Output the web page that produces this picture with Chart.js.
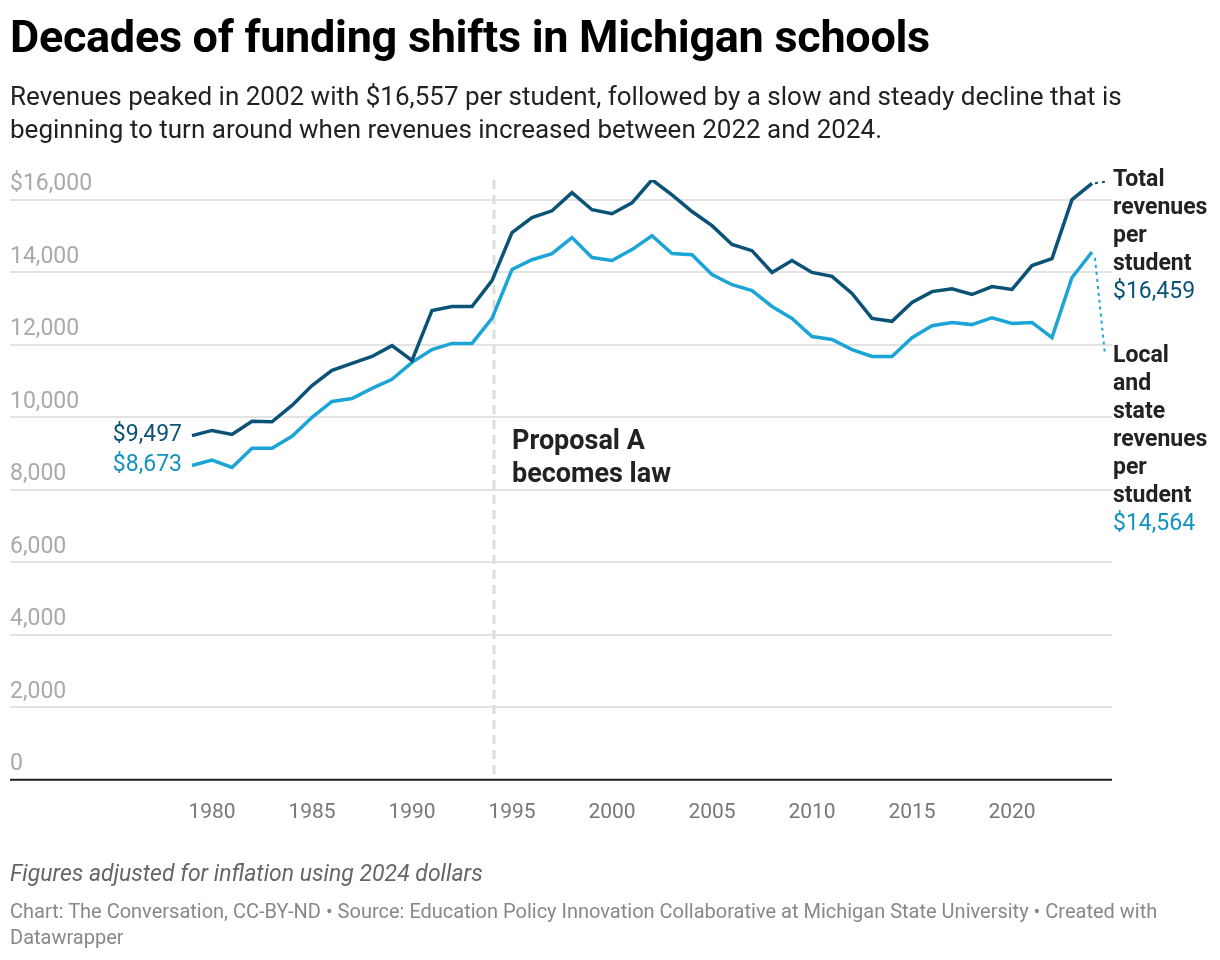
<!DOCTYPE html>
<html>
<head>
<meta charset="utf-8">
<script src="https://cdn.jsdelivr.net/npm/chart.js@4.4.1/dist/chart.umd.min.js"></script>
<style>
  body { margin: 0; background: #fff; font-family: Roboto, sans-serif; }
  #wrap { position: relative; width: 1220px; height: 960px; }
  h1 { position: absolute; left: 10px; top: 10px; margin: 0; font-size: 45px; font-weight: 700; color: #000; letter-spacing: -0.3px; }
  .sub { position: absolute; left: 10px; top: 80px; width: 1205px; font-size: 26px; line-height: 33px; color: #222; }
  canvas { position: absolute; left: 0; top: 0; }
  .note { position: absolute; left: 10px; top: 860px; font-size: 23px; font-style: italic; color: #666; }
  .src { position: absolute; left: 10px; top: 898px; font-size: 20px; line-height: 26px; color: #888; width: 1150px; }
</style>
</head>
<body>
<div id="wrap">
  <canvas id="chart" width="1220" height="960"></canvas>
  <h1>Decades of funding shifts in Michigan schools</h1>
  <div class="sub">Revenues peaked in 2002 with $16,557 per student, followed by a slow and steady decline that is beginning to turn around when revenues increased between 2022 and 2024.</div>
  <div class="note">Figures adjusted for inflation using 2024 dollars</div>
  <div class="src">Chart: The Conversation, CC-BY-ND • Source: Education Policy Innovation Collaborative at Michigan State University • Created with Datawrapper</div>
</div>
<script>
const years = [];
for (let y = 1979; y <= 2024; y++) years.push(y);

const totalRevenues = [9497, 9640, 9530, 9890, 9880, 10330, 10880, 11300, 11490, 11680,
  11980, 11570, 12950, 13060, 13060, 13775, 15100, 15510, 15700, 16200,
  15730, 15620, 15920, 16557, 16140, 15680, 15290, 14770, 14600, 14000,
  14330, 14000, 13890, 13420, 12730, 12650, 13170, 13470, 13550, 13390,
  13610, 13530, 14190, 14380, 16010, 16459];

const localStateRevenues = [8673, 8820, 8620, 9150, 9150, 9480, 10000, 10440, 10520, 10800,
  11050, 11520, 11870, 12040, 12040, 12730, 14080, 14350, 14520, 14960,
  14410, 14330, 14630, 15010, 14520, 14490, 13940, 13660, 13500, 13060,
  12730, 12230, 12150, 11870, 11680, 11680, 12200, 12530, 12620, 12560,
  12750, 12590, 12620, 12200, 13860, 14564];

const yTicks = [0, 2000, 4000, 6000, 8000, 10000, 12000, 14000, 16000];
const xTicks = [1980, 1985, 1990, 1995, 2000, 2005, 2010, 2015, 2020];
const proposalYear = 1994.1;

const DARK = '#0b5277';
const LIGHT = '#1ba5d6';

const toPoints = arr => arr.map((v, i) => ({ x: years[i], y: v }));

const extras = {
  id: 'extras',
  beforeDatasetsDraw(chart) {
    const { ctx, scales: { x, y }, chartArea } = chart;
    // y labels above gridlines
    ctx.save();
    ctx.font = '23px Roboto';
    ctx.fillStyle = '#aaa';
    ctx.textBaseline = 'bottom';
    yTicks.forEach(v => {
      const label = v === 16000 ? '$16,000' : v.toLocaleString('en-US');
      ctx.fillText(label, 10, y.getPixelForValue(v) - 4);
    });
    // Proposal A line
    const px = x.getPixelForValue(proposalYear);
    ctx.strokeStyle = '#ddd';
    ctx.lineWidth = 3;
    ctx.setLineDash([9, 6]);
    ctx.beginPath();
    ctx.moveTo(px, chartArea.top);
    ctx.lineTo(px, chartArea.bottom);
    ctx.stroke();
    ctx.restore();
  },
  afterDatasetsDraw(chart) {
    const { ctx, scales: { x, y }, chartArea } = chart;
    ctx.save();
    // baseline
    ctx.strokeStyle = '#222';
    ctx.lineWidth = 2;
    ctx.beginPath();
    ctx.moveTo(chartArea.left, chartArea.bottom);
    ctx.lineTo(chartArea.right, chartArea.bottom);
    ctx.stroke();

    // start labels
    ctx.font = '23px Roboto';
    ctx.textAlign = 'right';
    ctx.textBaseline = 'middle';
    const x0 = x.getPixelForValue(years[0]) - 10;
    ctx.fillStyle = DARK;
    ctx.fillText('$9,497', x0, y.getPixelForValue(totalRevenues[0]));
    ctx.fillStyle = '#1492c0';
    ctx.fillText('$8,673', x0, y.getPixelForValue(localStateRevenues[0]));

    // Proposal A label
    const px = x.getPixelForValue(proposalYear);
    ctx.textAlign = 'left';
    ctx.font = 'bold 27px Roboto';
    ctx.fillStyle = '#222';
    ctx.fillText('Proposal A', px + 18, 442);
    ctx.fillText('becomes law', px + 18, 475);

    // end labels with dotted connectors
    const last = years.length - 1;
    const ex = x.getPixelForValue(years[last]);
    const lx = 1113;
    const ty = y.getPixelForValue(totalRevenues[last]);
    const ly = y.getPixelForValue(localStateRevenues[last]);
    ctx.lineWidth = 2;
    ctx.setLineDash([3, 4]);
    ctx.strokeStyle = DARK;
    ctx.beginPath(); ctx.moveTo(ex + 3, ty); ctx.lineTo(lx - 6, ty - 2); ctx.stroke();
    ctx.strokeStyle = LIGHT;
    ctx.beginPath(); ctx.moveTo(ex + 3, ly + 6); ctx.lineTo(lx - 8, 355); ctx.stroke();
    ctx.setLineDash([]);

    ctx.fillStyle = '#222';
    ctx.font = 'bold 23px Roboto';
    ['Total', 'revenues', 'per', 'student'].forEach((t, i) => ctx.fillText(t, lx, 180 + i * 28));
    ctx.font = '23px Roboto';
    ctx.fillStyle = DARK;
    ctx.fillText('$16,459', lx, 292);

    ctx.fillStyle = '#222';
    ctx.font = 'bold 23px Roboto';
    ['Local', 'and', 'state', 'revenues', 'per', 'student'].forEach((t, i) => ctx.fillText(t, lx, 356 + i * 28));
    ctx.font = '23px Roboto';
    ctx.fillStyle = '#1492c0';
    ctx.fillText('$14,564', lx, 524);
    ctx.restore();
  }
};

new Chart(document.getElementById('chart'), {
  type: 'line',
  data: {
    datasets: [
      { label: 'Total revenues per student', data: toPoints(totalRevenues), borderColor: DARK, borderWidth: 3.5, pointRadius: 0, tension: 0 },
      { label: 'Local and state revenues per student', data: toPoints(localStateRevenues), borderColor: LIGHT, borderWidth: 3.5, pointRadius: 0, tension: 0 }
    ]
  },
  plugins: [extras],
  options: {
    responsive: false,
    animation: false,
    layout: { padding: { left: 10, right: 108, top: 180, bottom: 123 } },
    plugins: { legend: { display: false }, tooltip: { enabled: false } },
    scales: {
      x: {
        type: 'linear', min: 1969.9, max: 2025,
        grid: { display: false },
        border: { display: false },
        afterBuildTicks: axis => { axis.ticks = xTicks.map(v => ({ value: v })); },
        ticks: { color: '#777', font: { family: 'Roboto', size: 21 }, padding: 12, callback: v => String(v) }
      },
      y: {
        min: 0, max: 16550,
        afterBuildTicks: axis => { axis.ticks = yTicks.map(v => ({ value: v })); },
        grid: { color: '#e3e3e3', lineWidth: 2, drawTicks: false },
        border: { display: false },
        ticks: { display: false }
      }
    }
  }
});
</script>
</body>
</html>
